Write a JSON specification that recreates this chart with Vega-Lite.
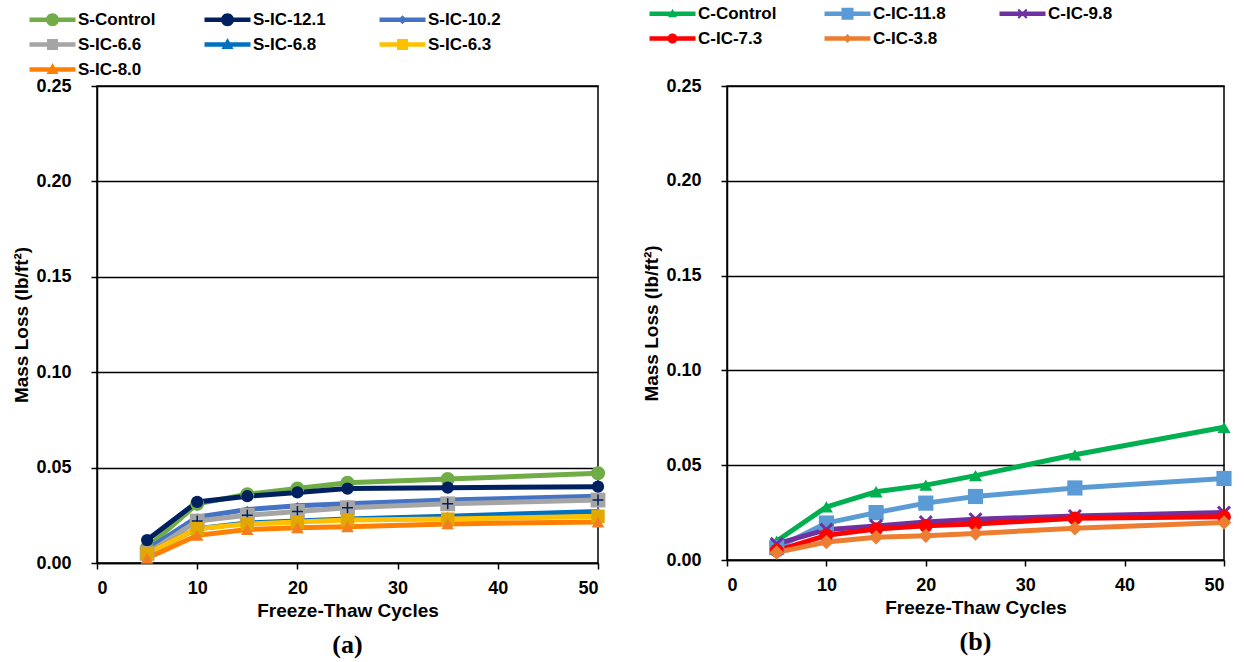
{
  "$schema": "https://vega.github.io/schema/vega-lite/v6.json",
  "background": "white",
  "padding": {"left": 12, "top": 4, "right": 6, "bottom": 4},
  "spacing": 129,
  "bounds": "flush",
  "resolve": {"scale": {"color": "independent", "stroke": "independent", "shape": "independent"}},
  "config": {
    "font": "Liberation Sans",
    "view": {"stroke": "black", "strokeWidth": 1.5},
    "axis": {"labelFont": "Liberation Sans", "labelFontSize": 18, "labelFontWeight": "bold", "labelColor": "black", "titleFont": "Liberation Sans", "titleFontSize": 19, "titleFontWeight": "bold", "titleColor": "black", "domainColor": "black", "domainWidth": 1.5, "tickColor": "black", "tickWidth": 1.5, "tickSize": 6, "gridColor": "black", "gridWidth": 1.5, "gridOpacity": 1},
    "axisX": {"grid": false, "labelPadding": 10, "titlePadding": 4},
    "axisY": {"labelPadding": 20, "titlePadding": 4},
    "legend": {"orient": "none", "direction": "horizontal", "columns": 3, "title": null, "symbolSize": 100, "symbolOpacity": 1, "symbolStrokeWidth": 0, "labelFont": "Liberation Sans", "labelFontSize": 17, "labelFontWeight": "bold", "labelColor": "black", "labelOffset": 17, "columnPadding": 48, "rowPadding": 7, "gridAlign": "all", "labelLimit": 300}
  },
  "datasets": {
    "left": [
      {"series": "S-Control", "cycles": 5, "loss": 0.008}, {"series": "S-Control", "cycles": 10, "loss": 0.031}, {"series": "S-Control", "cycles": 15, "loss": 0.036}, {"series": "S-Control", "cycles": 20, "loss": 0.039}, {"series": "S-Control", "cycles": 25, "loss": 0.042}, {"series": "S-Control", "cycles": 35, "loss": 0.044}, {"series": "S-Control", "cycles": 50, "loss": 0.047},
      {"series": "S-IC-12.1", "cycles": 5, "loss": 0.012}, {"series": "S-IC-12.1", "cycles": 10, "loss": 0.032}, {"series": "S-IC-12.1", "cycles": 15, "loss": 0.035}, {"series": "S-IC-12.1", "cycles": 20, "loss": 0.037}, {"series": "S-IC-12.1", "cycles": 25, "loss": 0.039}, {"series": "S-IC-12.1", "cycles": 35, "loss": 0.0395}, {"series": "S-IC-12.1", "cycles": 50, "loss": 0.040},
      {"series": "S-IC-10.2", "cycles": 5, "loss": 0.007}, {"series": "S-IC-10.2", "cycles": 10, "loss": 0.024}, {"series": "S-IC-10.2", "cycles": 15, "loss": 0.028}, {"series": "S-IC-10.2", "cycles": 20, "loss": 0.030}, {"series": "S-IC-10.2", "cycles": 25, "loss": 0.031}, {"series": "S-IC-10.2", "cycles": 35, "loss": 0.033}, {"series": "S-IC-10.2", "cycles": 50, "loss": 0.035},
      {"series": "S-IC-6.6", "cycles": 5, "loss": 0.005}, {"series": "S-IC-6.6", "cycles": 10, "loss": 0.022}, {"series": "S-IC-6.6", "cycles": 15, "loss": 0.025}, {"series": "S-IC-6.6", "cycles": 20, "loss": 0.027}, {"series": "S-IC-6.6", "cycles": 25, "loss": 0.029}, {"series": "S-IC-6.6", "cycles": 35, "loss": 0.031}, {"series": "S-IC-6.6", "cycles": 50, "loss": 0.033},
      {"series": "S-IC-6.8", "cycles": 5, "loss": 0.005}, {"series": "S-IC-6.8", "cycles": 10, "loss": 0.018}, {"series": "S-IC-6.8", "cycles": 15, "loss": 0.021}, {"series": "S-IC-6.8", "cycles": 20, "loss": 0.022}, {"series": "S-IC-6.8", "cycles": 25, "loss": 0.023}, {"series": "S-IC-6.8", "cycles": 35, "loss": 0.0245}, {"series": "S-IC-6.8", "cycles": 50, "loss": 0.027},
      {"series": "S-IC-6.3", "cycles": 5, "loss": 0.005}, {"series": "S-IC-6.3", "cycles": 10, "loss": 0.018}, {"series": "S-IC-6.3", "cycles": 15, "loss": 0.0205}, {"series": "S-IC-6.3", "cycles": 20, "loss": 0.0215}, {"series": "S-IC-6.3", "cycles": 25, "loss": 0.0225}, {"series": "S-IC-6.3", "cycles": 35, "loss": 0.023}, {"series": "S-IC-6.3", "cycles": 50, "loss": 0.0245},
      {"series": "S-IC-8.0", "cycles": 5, "loss": 0.0025}, {"series": "S-IC-8.0", "cycles": 10, "loss": 0.0145}, {"series": "S-IC-8.0", "cycles": 15, "loss": 0.0175}, {"series": "S-IC-8.0", "cycles": 20, "loss": 0.0185}, {"series": "S-IC-8.0", "cycles": 25, "loss": 0.019}, {"series": "S-IC-8.0", "cycles": 35, "loss": 0.0205}, {"series": "S-IC-8.0", "cycles": 50, "loss": 0.0215}
    ],
    "right": [
      {"series": "C-Control", "cycles": 5, "loss": 0.010}, {"series": "C-Control", "cycles": 10, "loss": 0.028}, {"series": "C-Control", "cycles": 15, "loss": 0.036}, {"series": "C-Control", "cycles": 20, "loss": 0.0395}, {"series": "C-Control", "cycles": 25, "loss": 0.0445}, {"series": "C-Control", "cycles": 35, "loss": 0.0555}, {"series": "C-Control", "cycles": 50, "loss": 0.070},
      {"series": "C-IC-11.8", "cycles": 5, "loss": 0.0065}, {"series": "C-IC-11.8", "cycles": 10, "loss": 0.0195}, {"series": "C-IC-11.8", "cycles": 15, "loss": 0.025}, {"series": "C-IC-11.8", "cycles": 20, "loss": 0.030}, {"series": "C-IC-11.8", "cycles": 25, "loss": 0.0335}, {"series": "C-IC-11.8", "cycles": 35, "loss": 0.038}, {"series": "C-IC-11.8", "cycles": 50, "loss": 0.043},
      {"series": "C-IC-9.8", "cycles": 5, "loss": 0.0085}, {"series": "C-IC-9.8", "cycles": 10, "loss": 0.016}, {"series": "C-IC-9.8", "cycles": 15, "loss": 0.018}, {"series": "C-IC-9.8", "cycles": 20, "loss": 0.020}, {"series": "C-IC-9.8", "cycles": 25, "loss": 0.0215}, {"series": "C-IC-9.8", "cycles": 35, "loss": 0.0232}, {"series": "C-IC-9.8", "cycles": 50, "loss": 0.025},
      {"series": "C-IC-7.3", "cycles": 5, "loss": 0.005}, {"series": "C-IC-7.3", "cycles": 10, "loss": 0.013}, {"series": "C-IC-7.3", "cycles": 15, "loss": 0.0163}, {"series": "C-IC-7.3", "cycles": 20, "loss": 0.018}, {"series": "C-IC-7.3", "cycles": 25, "loss": 0.019}, {"series": "C-IC-7.3", "cycles": 35, "loss": 0.022}, {"series": "C-IC-7.3", "cycles": 50, "loss": 0.0228},
      {"series": "C-IC-3.8", "cycles": 5, "loss": 0.004}, {"series": "C-IC-3.8", "cycles": 10, "loss": 0.0095}, {"series": "C-IC-3.8", "cycles": 15, "loss": 0.012}, {"series": "C-IC-3.8", "cycles": 20, "loss": 0.0128}, {"series": "C-IC-3.8", "cycles": 25, "loss": 0.014}, {"series": "C-IC-3.8", "cycles": 35, "loss": 0.0168}, {"series": "C-IC-3.8", "cycles": 50, "loss": 0.0198}
    ]
  },
  "hconcat": [
    {
      "width": 501,
      "height": 477,
      "data": {"name": "left"},
      "title": {"text": "(a)", "orient": "bottom", "font": "Liberation Serif", "fontSize": 26, "fontWeight": "bold", "color": "black", "offset": 12},
      "encoding": {
        "x": {"field": "cycles", "type": "quantitative", "scale": {"domain": [0, 50]}, "axis": {"values": [0, 10, 20, 30, 40, 50], "title": "Freeze-Thaw Cycles"}},
        "y": {"field": "loss", "type": "quantitative", "scale": {"domain": [0, 0.25]}, "axis": {"values": [0, 0.05, 0.1, 0.15, 0.2, 0.25], "format": ".2f", "title": "Mass Loss (lb/ft²)"}}
      },
      "layer": [
        {
          "mark": {"type": "line", "strokeWidth": 5},
          "encoding": {
            "stroke": {"field": "series", "type": "nominal", "scale": {"domain": ["S-IC-8.0", "S-IC-6.3", "S-IC-6.8", "S-IC-6.6", "S-IC-10.2", "S-IC-12.1", "S-Control"], "range": ["#FF8000", "#FFC000", "#0070C0", "#A5A5A5", "#4472C4", "#002060", "#70AD47"]}, "legend": null}
          }
        },
        {
          "mark": {"type": "point", "filled": true, "opacity": 0, "size": 100},
          "encoding": {
            "color": {"field": "series", "type": "nominal", "scale": {"domain": ["S-Control", "S-IC-12.1", "S-IC-10.2", "S-IC-6.6", "S-IC-6.8", "S-IC-6.3", "S-IC-8.0"], "range": ["#70AD47", "#002060", "#4472C4", "#A5A5A5", "#0070C0", "#FFC000", "#FF8000"]}, "legend": {"legendX": -53, "legendY": -75, "columnPadding": 48}},
            "shape": {"field": "series", "type": "nominal", "scale": {"domain": ["S-Control", "S-IC-12.1", "S-IC-10.2", "S-IC-6.6", "S-IC-6.8", "S-IC-6.3", "S-IC-8.0"], "range": ["M-4.6,-0.45H4.6V0.45H-4.6ZM-1.3,0A1.3,1.3 0 1,1 1.3,0A1.3,1.3 0 1,1 -1.3,0Z", "M-4.6,-0.45H4.6V0.45H-4.6ZM-1.3,0A1.3,1.3 0 1,1 1.3,0A1.3,1.3 0 1,1 -1.3,0Z", "M-4.6,-0.45H4.6V0.45H-4.6ZM0,-0.9L0.9,0L0,0.9L-0.9,0Z", "M-4.6,-0.45H4.6V0.45H-4.6ZM-1.1,-1.1H1.1V1.1H-1.1Z", "M-4.6,-0.45H4.6V0.45H-4.6ZM0,-1.3L1.2,0.9H-1.2Z", "M-4.6,-0.45H4.6V0.45H-4.6ZM-1.1,-1.1H1.1V1.1H-1.1Z", "M-4.6,-0.45H4.6V0.45H-4.6ZM0,-1.3L1.2,0.9H-1.2Z"]}, "legend": {"legendX": -53, "legendY": -75, "columnPadding": 48}}
          }
        },
        {"transform": [{"filter": "datum.series === 'S-Control'"}], "mark": {"type": "point", "shape": "circle", "filled": true, "opacity": 1, "fill": "#70AD47", "size": 200}},
        {"transform": [{"filter": "datum.series === 'S-IC-12.1'"}], "mark": {"type": "point", "shape": "circle", "filled": true, "opacity": 1, "fill": "#002060", "size": 150}},
        {"transform": [{"filter": "datum.series === 'S-IC-10.2'"}], "mark": {"type": "point", "shape": "diamond", "filled": true, "opacity": 1, "fill": "#4472C4", "size": 60}},
        {"transform": [{"filter": "datum.series === 'S-IC-6.6'"}], "mark": {"type": "point", "shape": "square", "filled": true, "opacity": 1, "fill": "#A5A5A5", "size": 220}},
        {"transform": [{"filter": "datum.series === 'S-IC-6.6'"}], "mark": {"type": "point", "shape": "M-1,0H1M0,-1V1", "filled": false, "stroke": "#002060", "strokeWidth": 1.5, "size": 120, "opacity": 1}},
        {"transform": [{"filter": "datum.series === 'S-IC-6.8'"}], "mark": {"type": "point", "shape": "triangle-up", "filled": true, "opacity": 1, "fill": "#3A8AD8", "size": 110}},
        {"transform": [{"filter": "datum.series === 'S-IC-6.3'"}], "mark": {"type": "point", "shape": "square", "filled": true, "opacity": 1, "fill": "#E0A800", "size": 180}},
        {"transform": [{"filter": "datum.series === 'S-IC-8.0'"}], "mark": {"type": "point", "shape": "triangle-up", "filled": true, "opacity": 1, "fill": "#F47D20", "size": 160}}
      ]
    },
    {
      "width": 497,
      "height": 474,
      "data": {"name": "right"},
      "title": {"text": "(b)", "orient": "bottom", "font": "Liberation Serif", "fontSize": 26, "fontWeight": "bold", "color": "black", "offset": 12},
      "encoding": {
        "x": {"field": "cycles", "type": "quantitative", "scale": {"domain": [0, 50]}, "axis": {"values": [0, 10, 20, 30, 40, 50], "title": "Freeze-Thaw Cycles"}},
        "y": {"field": "loss", "type": "quantitative", "scale": {"domain": [0, 0.25]}, "axis": {"values": [0, 0.05, 0.1, 0.15, 0.2, 0.25], "format": ".2f", "title": "Mass Loss (lb/ft²)"}}
      },
      "layer": [
        {
          "mark": {"type": "line", "strokeWidth": 5},
          "encoding": {
            "stroke": {"field": "series", "type": "nominal", "scale": {"domain": ["C-IC-3.8", "C-IC-7.3", "C-IC-9.8", "C-IC-11.8", "C-Control"], "range": ["#ED7D31", "#FF0000", "#7030A0", "#5B9BD5", "#00B050"]}, "legend": null}
          }
        },
        {
          "mark": {"type": "point", "filled": true, "opacity": 0, "size": 100},
          "encoding": {
            "color": {"field": "series", "type": "nominal", "scale": {"domain": ["C-Control", "C-IC-11.8", "C-IC-9.8", "C-IC-7.3", "C-IC-3.8"], "range": ["#00B050", "#5B9BD5", "#7030A0", "#FF0000", "#ED7D31"]}, "legend": {"legendX": -63, "legendY": -81, "columnPadding": 47}},
            "shape": {"field": "series", "type": "nominal", "scale": {"domain": ["C-Control", "C-IC-11.8", "C-IC-9.8", "C-IC-7.3", "C-IC-3.8"], "range": ["M-4.6,-0.45H4.6V0.45H-4.6ZM0,-1.0L0.9,0.7H-0.9Z", "M-4.6,-0.45H4.6V0.45H-4.6ZM-1.2,-1.2H1.2V1.2H-1.2Z", "M-4.6,-0.45H4.6V0.45H-4.6ZM-1,-0.7L-0.7,-1L0,-0.3L0.7,-1L1,-0.7L0.3,0L1,0.7L0.7,1L0,0.3L-0.7,1L-1,0.7L-0.3,0Z", "M-4.6,-0.45H4.6V0.45H-4.6ZM-1,0A1,1 0 1,1 1,0A1,1 0 1,1 -1,0Z", "M-4.6,-0.45H4.6V0.45H-4.6ZM0,-0.9L0.9,0L0,0.9L-0.9,0Z"]}, "legend": {"legendX": -63, "legendY": -81, "columnPadding": 47}}
          }
        },
        {"transform": [{"filter": "datum.series === 'C-Control'"}], "mark": {"type": "point", "shape": "triangle-up", "filled": true, "opacity": 1, "fill": "#00B050", "size": 170}},
        {"transform": [{"filter": "datum.series === 'C-IC-11.8'"}], "mark": {"type": "point", "shape": "square", "filled": true, "opacity": 1, "fill": "#5B9BD5", "size": 230}},
        {"transform": [{"filter": "datum.series === 'C-IC-9.8'"}], "mark": {"type": "point", "shape": "M-1,-0.7L-0.7,-1L0,-0.3L0.7,-1L1,-0.7L0.3,0L1,0.7L0.7,1L0,0.3L-0.7,1L-1,0.7L-0.3,0Z", "filled": true, "opacity": 1, "fill": "#7030A0", "size": 200}},
        {"transform": [{"filter": "datum.series === 'C-IC-7.3'"}], "mark": {"type": "point", "shape": "circle", "filled": true, "opacity": 1, "fill": "#FF0000", "size": 190}},
        {"transform": [{"filter": "datum.series === 'C-IC-3.8'"}], "mark": {"type": "point", "shape": "diamond", "filled": true, "opacity": 1, "fill": "#ED7D31", "size": 210}}
      ]
    }
  ]
}
